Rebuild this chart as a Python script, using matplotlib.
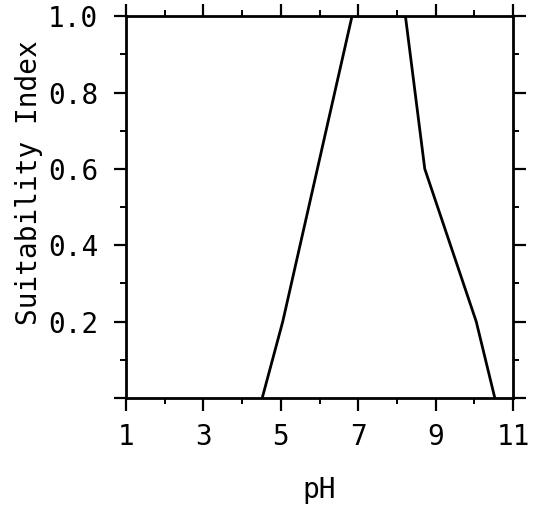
import numpy as np
import matplotlib
matplotlib.use("Agg")
import matplotlib.pyplot as plt
from matplotlib.ticker import MultipleLocator, FixedLocator

# pH breakpoints and suitability index
ph = [4.52, 5.05, 6.84, 8.22, 8.72, 10.05, 10.53]
si = [0.0, 0.2, 1.0, 1.0, 0.6, 0.2, 0.0]

x_major = [1, 3, 5, 7, 9, 11]
y_major = [0.0, 0.2, 0.4, 0.6, 0.8, 1.0]
y_labels = ["", "0.2", "0.4", "0.6", "0.8", "1.0"]

plt.rcParams['font.family'] = ['DejaVu Sans Mono']

fig = plt.figure(figsize=(5.42, 5.05), dpi=100)
ax = fig.add_axes([0.2325, 0.212, 0.714, 0.756])

ax.plot(ph, si, color='black', lw=2.0, solid_joinstyle='miter')

ax.set_xlim(1, 11)
ax.set_ylim(0, 1.0)

ax.xaxis.set_major_locator(FixedLocator(x_major))
ax.xaxis.set_minor_locator(MultipleLocator(1))
ax.yaxis.set_major_locator(FixedLocator(y_major))
ax.yaxis.set_minor_locator(MultipleLocator(0.1))
ax.set_yticklabels(y_labels)

for s in ax.spines.values():
    s.set_linewidth(2.0)

ax.tick_params(which='major', direction='out', length=9, width=1.6,
               labelsize=20, top=True, right=True)
ax.tick_params(which='minor', direction='out', length=4, width=1.4,
               top=True, right=True)
ax.tick_params(axis='x', which='major', pad=9)
ax.tick_params(axis='y', which='major', pad=11)

ax.set_xlabel("pH", fontsize=20, labelpad=18)
ax.set_ylabel("Suitability Index", fontsize=20)
ax.yaxis.set_label_coords(-0.215, 0.565)

fig.savefig("out.png", dpi=100)
